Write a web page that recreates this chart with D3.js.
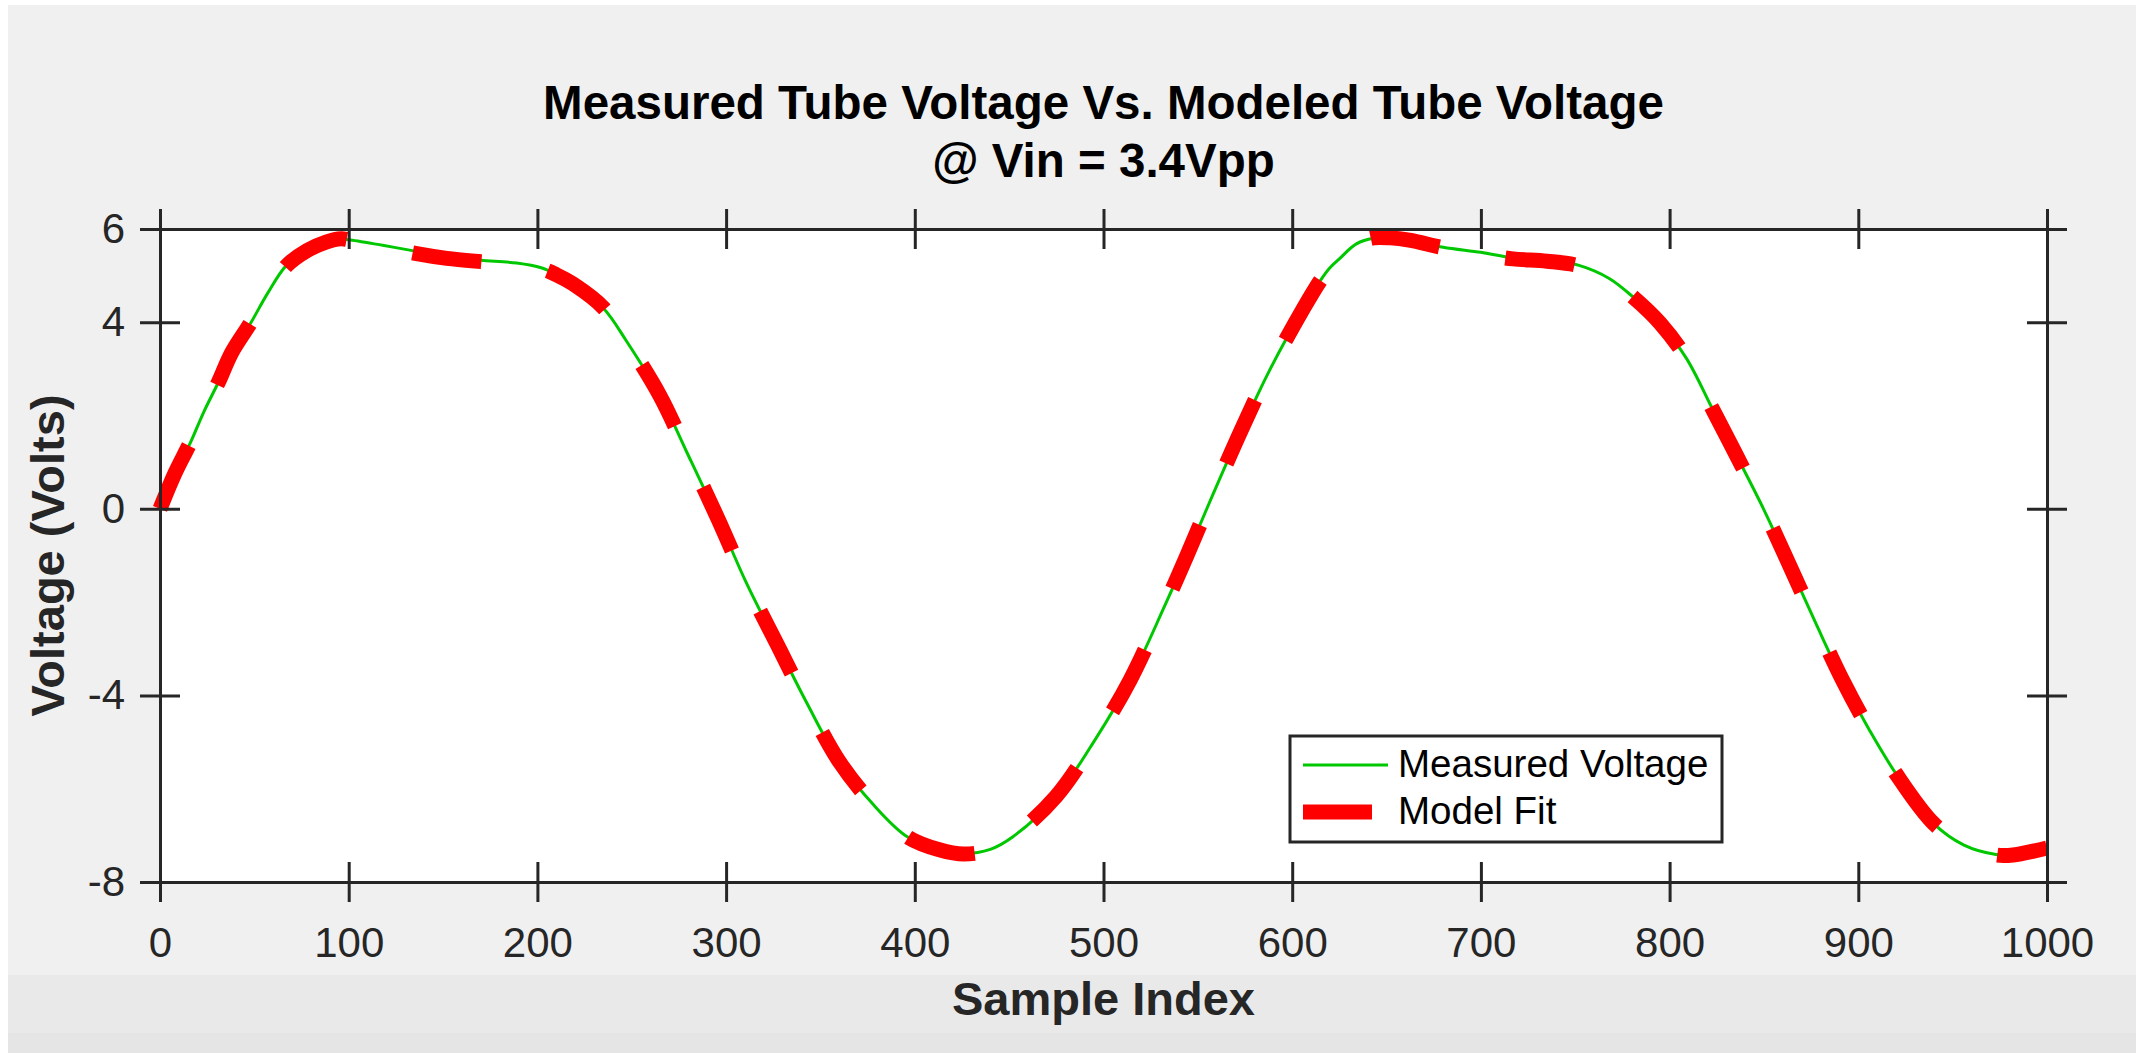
<!DOCTYPE html>
<html>
<head>
<meta charset="utf-8">
<script src="https://cdn.jsdelivr.net/npm/d3@7"></script>
<style>
  html, body { margin: 0; padding: 0; background: #f0f0f0; overflow: hidden; }
  svg { display: block; font-family: "Liberation Sans", Arial, Helvetica, sans-serif; }
</style>
</head>
<body>
<svg id="chart"></svg>
<script>
// values
var sampleIdx = [0, 8, 16, 23, 31, 38, 48, 57, 67, 78,
  88, 96, 100, 118, 136, 152, 170, 189, 202, 210,
  219, 235, 247, 265, 279, 296, 311, 327, 343, 360,
  378, 396, 413, 426, 440, 452, 475, 496, 514, 532,
  544, 558, 573, 588, 606, 615, 620, 625, 634, 643,
  652, 662, 680, 700, 717, 735, 752, 768, 781, 795,
  809, 823, 836, 850, 864, 878, 892, 906, 920, 940,
  956, 973, 982, 1000];

var measured = [0.00, 0.77, 1.41, 2.06, 2.72, 3.34, 3.98, 4.62, 5.22, 5.54,
  5.71, 5.78, 5.77, 5.65, 5.52, 5.40, 5.33, 5.27, 5.17, 5.03,
  4.82, 4.30, 3.61, 2.42, 1.23, -0.24, -1.61, -2.90, -4.18, -5.42,
  -6.34, -7.03, -7.30, -7.39, -7.30, -7.03, -6.16, -4.92, -3.68, -2.12,
  -1.02, 0.31, 1.69, 2.97, 4.30, 4.90, 5.17, 5.36, 5.68, 5.80,
  5.80, 5.77, 5.61, 5.50, 5.38, 5.34, 5.22, 4.94, 4.53, 3.98,
  3.22, 2.12, 1.10, -0.02, -1.25, -2.50, -3.70, -4.75, -5.68, -6.75,
  -7.21, -7.41, -7.41, -7.26];

var modelFit = [0.00, 0.77, 1.42, 2.06, 2.72, 3.35, 3.99, 4.62, 5.21, 5.54,
  5.72, 5.79, 5.77, 5.63, 5.47, 5.37, 5.30, 5.24, 5.15, 5.02,
  4.82, 4.31, 3.61, 2.42, 1.23, -0.24, -1.61, -2.90, -4.18, -5.42,
  -6.34, -7.03, -7.31, -7.40, -7.31, -7.03, -6.16, -4.92, -3.68, -2.12,
  -1.02, 0.31, 1.69, 2.97, 4.30, 4.90, 5.17, 5.36, 5.68, 5.81,
  5.81, 5.76, 5.60, 5.46, 5.36, 5.31, 5.21, 4.94, 4.53, 3.98,
  3.22, 2.12, 1.10, -0.02, -1.25, -2.50, -3.70, -4.75, -5.68, -6.75,
  -7.21, -7.42, -7.42, -7.27];

var xTicks = [0, 100, 200, 300, 400, 500, 600, 700, 800, 900, 1000];
var yTicks = [-8, -4, 0, 4, 6];
var seriesNames = ['Measured Voltage', 'Model Fit'];
var titleLines = ['Measured Tube Voltage Vs. Modeled Tube Voltage', '@ Vin = 3.4Vpp'];

var W = 2136, H = 1053;
var axisColor = '#262626';

var svg = d3.select('#chart')
  .attr('width', W)
  .attr('height', H);

// figure background + window bands
svg.append('rect').attr('width', W).attr('height', H).attr('fill', '#f0f0f0');
svg.append('rect').attr('y', 975).attr('width', W).attr('height', 58).attr('fill', '#e9e9e9');
svg.append('rect').attr('y', 1033).attr('width', W).attr('height', 20).attr('fill', '#e5e5e5');
svg.append('rect').attr('width', W).attr('height', 5).attr('fill', '#ffffff');
svg.append('rect').attr('width', 8).attr('height', H).attr('fill', '#ffffff');

var x = d3.scaleLinear().domain([0, 1000]).range([160, 2047]);
var y = d3.scaleLinear().domain([-8, 6]).range([882, 229]);

// plot area
svg.append('rect')
  .attr('x', x(0)).attr('y', y(6))
  .attr('width', x(1000) - x(0))
  .attr('height', y(-8) - y(6))
  .attr('fill', '#ffffff');

var pts = function (vals) {
  return sampleIdx.map(function (s, i) { return [s, vals[i]]; });
};

var line = d3.line()
  .x(function (d) { return x(d[0]); })
  .y(function (d) { return y(d[1]); })
  .curve(d3.curveCatmullRom.alpha(0.5));

svg.append('path')
  .datum(pts(measured))
  .attr('d', line)
  .attr('fill', 'none')
  .attr('stroke', '#00c800')
  .attr('stroke-width', 3);

svg.append('path')
  .datum(pts(modelFit))
  .attr('d', line)
  .attr('fill', 'none')
  .attr('stroke', '#ff0000')
  .attr('stroke-width', 15)
  .attr('stroke-dasharray', '69.5,67');

// axes, ticks point both in and out
var plain = function (d) { return String(d); };

var styleAxis = function (g) {
  g.attr('font-family', null).attr('font-size', null);
  g.select('.domain').attr('stroke', axisColor).attr('stroke-width', 3);
  g.selectAll('.tick line').attr('stroke', axisColor).attr('stroke-width', 3);
  g.selectAll('.tick text').attr('fill', axisColor).style('font-size', '42px');
};

var gBottom = svg.append('g')
  .attr('transform', 'translate(0,' + y(-8) + ')')
  .call(d3.axisBottom(x).tickValues(xTicks).tickFormat(plain)
    .tickSizeInner(20).tickSizeOuter(0).tickPadding(25));
styleAxis(gBottom);
gBottom.selectAll('.tick line').attr('y1', -20).attr('y2', 20);

var gTop = svg.append('g')
  .attr('transform', 'translate(0,' + y(6) + ')')
  .call(d3.axisTop(x).tickValues(xTicks).tickSizeInner(20).tickSizeOuter(0).tickFormat(''));
styleAxis(gTop);
gTop.selectAll('.tick line').attr('y1', 20).attr('y2', -20);

var gLeft = svg.append('g')
  .attr('transform', 'translate(' + x(0) + ',0)')
  .call(d3.axisLeft(y).tickValues(yTicks).tickFormat(plain)
    .tickSizeInner(20).tickSizeOuter(0).tickPadding(15));
styleAxis(gLeft);
gLeft.selectAll('.tick line').attr('x1', 20).attr('x2', -20);

var gRight = svg.append('g')
  .attr('transform', 'translate(' + x(1000) + ',0)')
  .call(d3.axisRight(y).tickValues(yTicks).tickSizeInner(20).tickSizeOuter(0).tickFormat(''));
styleAxis(gRight);
gRight.selectAll('.tick line').attr('x1', -20).attr('x2', 20);

// titles
var cx = (x(0) + x(1000)) / 2;
svg.selectAll('.title')
  .data(titleLines)
  .enter()
  .append('text')
  .attr('class', 'title')
  .attr('x', cx)
  .attr('y', function (d, i) { return 119 + i * 58; })
  .attr('text-anchor', 'middle')
  .style('font-size', '47.5px')
  .style('font-weight', 'bold')
  .attr('fill', '#000')
  .text(function (d) { return d; });

svg.append('text')
  .attr('x', cx)
  .attr('y', 1015)
  .attr('text-anchor', 'middle')
  .style('font-size', '47px')
  .style('font-weight', 'bold')
  .attr('fill', axisColor)
  .text('Sample Index');

svg.append('text')
  .attr('transform', 'translate(64,' + ((y(6) + y(-8)) / 2) + ') rotate(-90)')
  .attr('text-anchor', 'middle')
  .style('font-size', '47px')
  .style('font-weight', 'bold')
  .attr('fill', axisColor)
  .text('Voltage (Volts)');

// legend
var legend = svg.append('g').attr('transform', 'translate(1290,736)');
legend.append('rect')
  .attr('width', 432).attr('height', 106)
  .attr('fill', '#ffffff')
  .attr('stroke', axisColor)
  .attr('stroke-width', 3);

var legendStyle = [
  { color: '#00c800', width: 3, len: 85 },
  { color: '#ff0000', width: 15, len: 69 }
];

legend.selectAll('.entry')
  .data(seriesNames)
  .enter()
  .append('g')
  .attr('class', 'entry')
  .attr('transform', function (d, i) { return 'translate(0,' + (29 + i * 47) + ')'; })
  .each(function (d, i) {
    var g = d3.select(this);
    g.append('line')
      .attr('x1', 13).attr('x2', 13 + legendStyle[i].len)
      .attr('stroke', legendStyle[i].color)
      .attr('stroke-width', legendStyle[i].width);
    g.append('text')
      .attr('x', 108)
      .attr('y', 12)
      .style('font-size', '38.5px')
      .attr('fill', '#000')
      .text(d);
  });
</script>
</body>
</html>
